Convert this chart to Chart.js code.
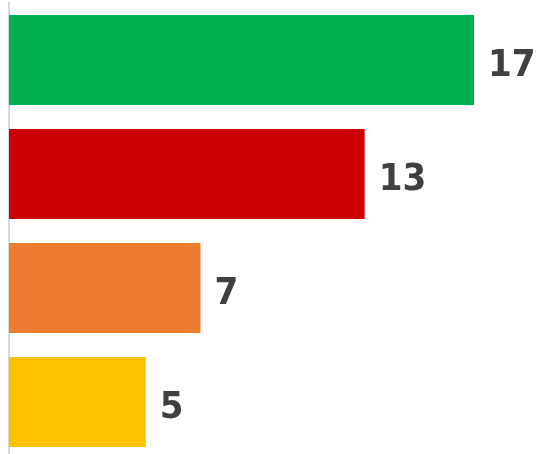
<!DOCTYPE html>
<html>
<head>
<meta charset="utf-8">
<script src="https://cdn.jsdelivr.net/npm/chart.js@4/dist/chart.umd.min.js"></script>
<style>
  html, body { margin: 0; padding: 0; background: #ffffff; overflow: hidden; }
  #wrap { position: absolute; left: 0; top: 0; width: 537px; height: 459px; }
</style>
</head>
<body>
<div id="wrap"><canvas id="chart" width="537" height="459"></canvas></div>
<script>
// Categories and values, top to bottom
const categories = ["A", "B", "C", "D"];
const values = [17, 13, 7, 5];
const barColors = ["#00B050", "#CC0000", "#ED7D31", "#FFC000"];

// Writes each bar's value just past its end
const valueLabels = {
  id: "valueLabels",
  afterDatasetsDraw(chart) {
    const ctx = chart.ctx;
    const meta = chart.getDatasetMeta(0);
    ctx.save();
    ctx.font = "bold 38px 'DejaVu Sans Condensed', 'DejaVu Sans', sans-serif";
    ctx.fillStyle = "#404040";
    ctx.textAlign = "left";
    ctx.textBaseline = "alphabetic";
    meta.data.forEach((bar, i) => {
      ctx.fillText(String(chart.data.datasets[0].data[i]), bar.x + 14, bar.y + 16);
    });
    ctx.restore();
  }
};

new Chart(document.getElementById("chart"), {
  type: "bar",
  data: {
    labels: categories,
    datasets: [{
      data: values,
      backgroundColor: barColors,
      borderWidth: 0,
      barPercentage: 0.79,
      categoryPercentage: 1.0
    }]
  },
  options: {
    indexAxis: "y",
    responsive: false,
    animation: false,
    layout: { padding: { left: 9, top: 3, right: 0, bottom: 0 } },
    plugins: { legend: { display: false }, tooltip: { enabled: false } },
    scales: {
      x: { display: false, min: 0, max: 19.3 },
      y: {
        display: true,
        ticks: { display: false },
        grid: { display: false, drawTicks: false },
        border: { display: true, color: "#D9D9D9", width: 2 }
      }
    }
  },
  plugins: [valueLabels]
});
</script>
</body>
</html>
